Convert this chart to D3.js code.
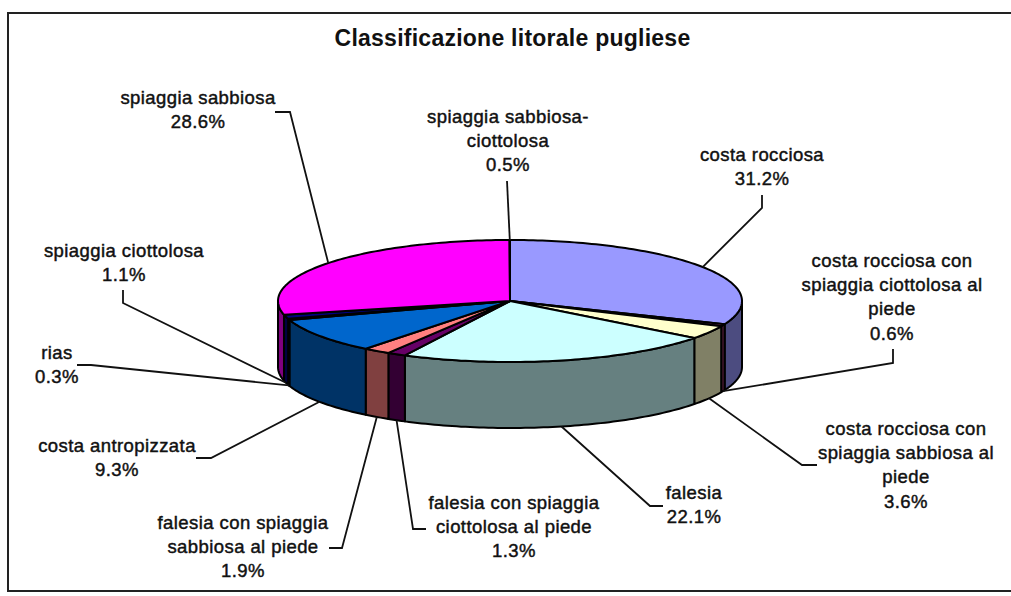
<!DOCTYPE html>
<html>
<head>
<meta charset="utf-8">
<script src="https://cdn.jsdelivr.net/npm/d3@7"></script>
<style>
html,body{margin:0;padding:0;background:#fff;overflow:hidden}
svg{display:block}
text{font-family:"Liberation Sans",Arial,sans-serif;fill:#111}
</style>
</head>
<body>
<svg id="chart" width="1011" height="596"></svg>
<script>
const chartTitle = "Classificazione litorale pugliese";
const categories = [
  ["costa rocciosa"],
  ["costa rocciosa con","spiaggia ciottolosa al","piede"],
  ["costa rocciosa con","spiaggia sabbiosa al","piede"],
  ["falesia"],
  ["falesia con spiaggia","ciottolosa al piede"],
  ["falesia con spiaggia","sabbiosa al piede"],
  ["costa antropizzata"],
  ["rias"],
  ["spiaggia ciottolosa"],
  ["spiaggia sabbiosa"],
  ["spiaggia sabbiosa-","ciottolosa"]
];
const percentLabels = ["31.2%","0.6%","3.6%","22.1%","1.3%","1.9%","9.3%","0.3%","1.1%","28.6%","0.5%"];
// drawn slice sizes; the last slice is printed 0.5% but drawn as a hair-thin sliver in the picture
const sliceValues = [31.2,0.6,3.6,22.1,1.3,1.9,9.3,0.3,1.1,28.6,0.03];
const topColors  = ["#9999ff","#993366","#ffffcc","#ccffff","#660066","#ff8080","#0066cc","#ccccff","#000080","#ff00ff","#ffff00"];
const sideColors = ["#4c4c80","#4c1a33","#808066","#668080","#330033","#804040","#003366","#666680","#000040","#800080","#808000"];
// label layout: centre x, first baseline y
const labelX = [762,892,906,694,514,243,117,57,124,198,508];
const labelY = [161,267,435,499,509,529,452,359,257,104,123];
// leader layout: start point and elbow beside the label
const leaderStart = [[762,195],[893,349],[817,465],[663,506],[426,529],[329,548],[196,458],[77,365],[123,290],[275,112],[507,181]];
const leaderElbow = [[762,208],[893,363],[802,465],[650,506],[413,529],[342,548],[211,458],[91,365],[123,303],[290,112],null];

const cx = 510, cy = 301, rx = 232, ry = 61, depth = 66;
const x = d3.scaleLinear().domain([-1,1]).range([cx-rx,cx+rx]);
const y = d3.scaleLinear().domain([-1,1]).range([cy-ry,cy+ry]);
const svg = d3.select("#chart");
const line = d3.line();
const px = a => x(Math.sin(a));
const py = a => y(-Math.cos(a));
const arcPts = (a0,a1,dy=0) => {
  const n = Math.max(2, Math.ceil(Math.abs(a1-a0)/0.02));
  return d3.range(n+1).map(i => { const a = a0+(a1-a0)*i/n; return [px(a), py(a)+dy]; });
};
const slices = d3.pie().sort(null).value(d=>d)(sliceValues);

// frame (the right side runs off the picture)
svg.append("path").attr("d", line([[1011,13],[8,13],[8,591],[1011,591]]))
  .attr("fill","none").attr("stroke","#222").attr("stroke-width",2);

svg.append("text").attr("x",512.5).attr("y",46).attr("text-anchor","middle")
  .style("font-size","23px").style("font-weight","700").style("letter-spacing","0.25px").text(chartTitle);

// side wall: only the front half of the rim shows
const frontA = Math.PI/2, frontB = 3*Math.PI/2;
svg.append("g").selectAll("path").data(slices.filter(s=>s.endAngle>frontA && s.startAngle<frontB)).join("path")
  .attr("d", s => {
    const a0 = Math.max(s.startAngle,frontA), a1 = Math.min(s.endAngle,frontB);
    return line(arcPts(a0,a1).concat(arcPts(a1,a0,depth)))+"Z";
  })
  .attr("fill",(s)=>sideColors[s.index]).attr("stroke","#000").attr("stroke-width",2).attr("stroke-linejoin","round");

// top face
svg.append("g").selectAll("path").data(slices).join("path")
  .attr("d", s => line([[cx,cy]].concat(arcPts(s.startAngle,s.endAngle)))+"Z")
  .attr("fill",s=>topColors[s.index]).attr("stroke","#000").attr("stroke-width",2).attr("stroke-linejoin","round");

// leaders: end at the middle of each slice rim
svg.append("g").selectAll("path").data(slices).join("path")
  .attr("d", s => {
    const a = (s.startAngle+s.endAngle)/2;
    const rimExtra = (a>Math.PI*0.55 && a<Math.PI*1.45) ? depth : 0;
    const end = [px(a), py(a)+rimExtra];
    const pts = [leaderStart[s.index]];
    if (leaderElbow[s.index]) pts.push(leaderElbow[s.index]);
    pts.push(end);
    return line(pts);
  })
  .attr("fill","none").attr("stroke","#111").attr("stroke-width",1.8);

// labels
const lab = svg.append("g").selectAll("text").data(categories).join("text")
  .attr("text-anchor","middle")
  .style("font-size","18.5px").style("letter-spacing","0.42px")
  .style("stroke","#111").style("stroke-width","0.45px");
lab.each(function(lines,i){
  const t = d3.select(this);
  lines.concat([percentLabels[i]]).forEach((s,j)=>{
    t.append("tspan").attr("x",labelX[i]).attr("y",labelY[i]+j*24.2).text(s);
  });
});
</script>
</body>
</html>
